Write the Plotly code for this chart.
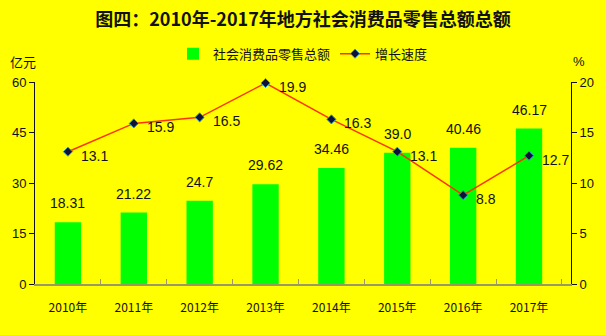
import plotly.graph_objects as go

years = ["2010年", "2011年", "2012年", "2013年", "2014年", "2015年", "2016年", "2017年"]
sales = [18.31, 21.22, 24.7, 29.62, 34.46, 39.0, 40.46, 46.17]
sales_labels = ["18.31", "21.22", "24.7", "29.62", "34.46", "39.0", "40.46", "46.17"]
growth = [13.1, 15.9, 16.5, 19.9, 16.3, 13.1, 8.8, 12.7]
growth_labels = ["13.1", "15.9", "16.5", "19.9", "16.3", "13.1", "8.8", "12.7"]

font_num = "Liberation Sans, Arial, sans-serif"
font_cjk = "Noto Sans CJK SC, sans-serif"

fig = go.Figure()
fig.add_trace(go.Bar(
    x=years, y=sales, name="社会消费品零售总额",
    marker=dict(color="#00FF00", line=dict(width=0)),
    width=0.4,
))
fig.add_trace(go.Scatter(
    x=years, y=growth, name="增长速度", yaxis="y2", mode="lines+markers",
    line=dict(color="#FF3300", width=1.5),
    marker=dict(symbol="diamond", size=7, color="#111133", line=dict(color="#3399CC", width=1)),
    cliponaxis=False,
))

annotations = [
    dict(text="亿元", xref="paper", yref="paper", x=-0.05, y=1.1, xanchor="left",
         yanchor="middle", showarrow=False, font=dict(family=font_cjk, size=13, color="#111111")),
    dict(text="%", xref="paper", yref="paper", x=1.0, y=1.1, xanchor="left",
         yanchor="middle", showarrow=False, font=dict(family=font_num, size=13, color="#111111")),
]
for xv, yv, t in zip(years, sales, sales_labels):
    annotations.append(dict(x=xv, y=yv, xref="x", yref="y", text=t, showarrow=False,
                            yanchor="middle", yshift=19,
                            font=dict(family=font_num, size=14, color="#111111")))
for xv, yv, t in zip(years, growth, growth_labels):
    annotations.append(dict(x=xv, y=yv, xref="x", yref="y2", text=t, showarrow=False,
                            xanchor="left", yanchor="middle", xshift=11, yshift=-4,
                            font=dict(family=font_num, size=14, color="#111111")))

fig.update_layout(
    width=606, height=335,
    paper_bgcolor="#FFFF00", plot_bgcolor="#FFFF00",
    margin=dict(l=30, r=30, t=82, b=51),
    title=dict(text="<b>图四：2010年-2017年地方社会消费品零售总额总额</b>",
               x=0.5, xanchor="center", y=0.94, yanchor="middle",
               font=dict(family=font_cjk, size=18, color="#111111")),
    legend=dict(orientation="h", x=0.5, xanchor="center", y=1.14, yanchor="middle",
                font=dict(family=font_cjk, size=13, color="#111111"),
                bgcolor="rgba(0,0,0,0)", itemwidth=30, tracegroupgap=0),
    showlegend=True,
    bargap=0.6,
    xaxis=dict(type="category", showline=True, linecolor="#999966", linewidth=2,
               ticks="inside", tickson="boundaries", ticklen=5, tickcolor="#999966",
               showgrid=False, tickfont=dict(family=font_cjk, size=12, color="#111111"),
               ticklabelstandoff=12),
    yaxis=dict(range=[0, 60], dtick=15, showline=True, linecolor="#111111", linewidth=1,
               ticks="outside", ticklen=5, tickcolor="#111111", showgrid=False, zeroline=False,
               tickfont=dict(family=font_num, size=13, color="#111111")),
    yaxis2=dict(range=[0, 20], dtick=5, overlaying="y", side="right", showline=True,
                linecolor="#111111", linewidth=1, ticks="outside", ticklen=5,
                tickcolor="#111111", showgrid=False, zeroline=False,
                tickfont=dict(family=font_num, size=13, color="#111111")),
    annotations=annotations,
)

fig.write_html("out.html")
